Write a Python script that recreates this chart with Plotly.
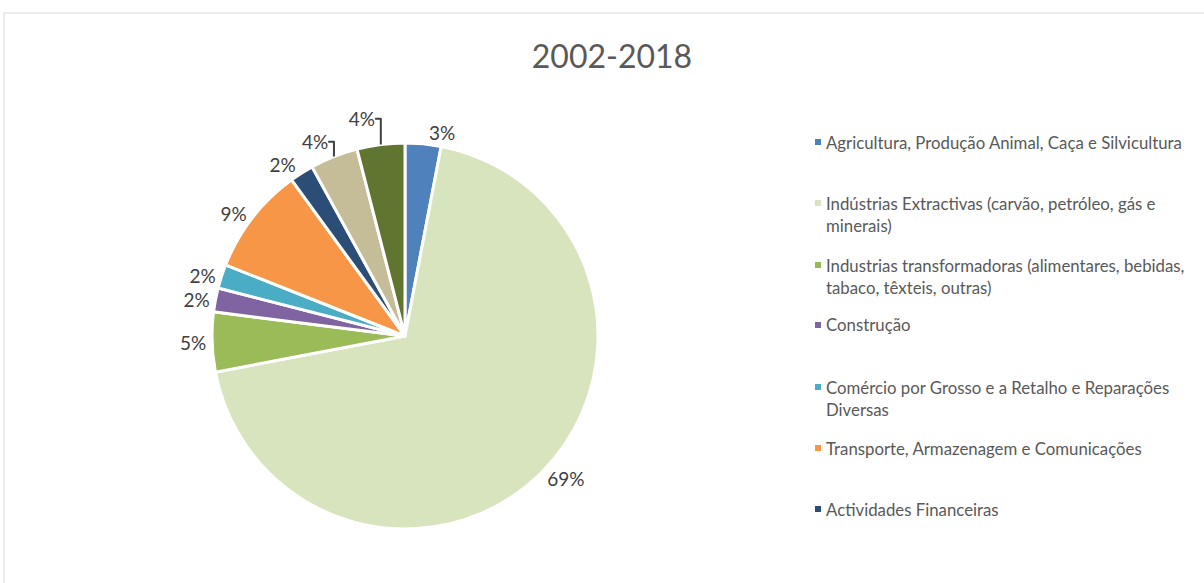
import plotly.graph_objects as go

categories = [
    "Agricultura, Produção Animal, Caça e Silvicultura",
    "Indústrias Extractivas (carvão, petróleo, gás e minerais)",
    "Industrias transformadoras (alimentares, bebidas, tabaco, têxteis, outras)",
    "Construção",
    "Comércio por Grosso e a Retalho e Reparações Diversas",
    "Transporte, Armazenagem e Comunicações",
    "Actividades Financeiras",
    "Outros Serviços",
    "Administração Pública",
]
legend_labels = [
    "Agricultura, Produção Animal, Caça e Silvicultura",
    "Indústrias Extractivas (carvão, petróleo, gás e<br>minerais)",
    "Industrias transformadoras (alimentares, bebidas,<br>tabaco, têxteis, outras)",
    "Construção",
    "Comércio por Grosso e a Retalho e Reparações<br>Diversas",
    "Transporte, Armazenagem e Comunicações",
    "Actividades Financeiras",
]
values = [3, 69, 5, 2, 2, 9, 2, 4, 4]
colors = ["#4F81BD", "#D7E4BD", "#9BBB59", "#8064A2", "#4BACC6",
          "#F79646", "#2C4D75", "#C4BD97", "#5F7530"]

W, H = 1204, 583
FONT = "Lato"
R = 193

fig = go.Figure()
fig.add_trace(go.Pie(
    labels=categories, values=values, sort=False, direction="clockwise",
    rotation=0,
    marker=dict(colors=colors, line=dict(color="white", width=3)),
    textposition="outside", texttemplate="%{percent:.0%}",
    textfont=dict(family=FONT, size=19, color="#404040"),
    showlegend=False,
    domain=dict(x=[(405 - R) / W, (405 + R) / W],
                y=[1 - (336 + R) / H, 1 - (336 - R) / H]),
))

# custom legend (the original legend is clipped after 7 entries)
marker_y = [142, 203, 265, 325, 387, 448, 509]
block_y = [142, 214.5, 276.5, 325, 398, 448, 509]
shapes = [dict(type="line", xref="paper", yref="paper",
               x0=4 / W, x1=1.0, y0=1 - 13 / H, y1=1 - 13 / H,
               line=dict(color="#D9D9D9", width=1)),
          dict(type="line", xref="paper", yref="paper",
               x0=4 / W, x1=4 / W, y0=0, y1=1 - 13 / H,
               line=dict(color="#D9D9D9", width=1))]
annotations = []
for i, lab in enumerate(legend_labels):
    my = marker_y[i]
    shapes.append(dict(type="rect", xref="paper", yref="paper",
                       x0=815 / W, x1=821 / W, y0=1 - (my + 3) / H, y1=1 - (my - 3) / H,
                       fillcolor=colors[i], line=dict(width=0)))
    annotations.append(dict(text=lab, xref="paper", yref="paper",
                            x=824 / W, y=1 - block_y[i] / H, xanchor="left", yanchor="middle",
                            align="left", showarrow=False,
                            font=dict(family=FONT, size=16.8, color="#595959")))

fig.update_layout(
    width=W, height=H,
    margin=dict(l=0, r=0, t=0, b=0),
    paper_bgcolor="white", plot_bgcolor="white",
    title=dict(text="2002-2018", x=612 / W, xanchor="center", y=1 - 57 / H, yanchor="middle",
               font=dict(family=FONT, size=32, color="#595959")),
    shapes=shapes, annotations=annotations,
)
fig.write_html("out.html", config={"displayModeBar": False},
               post_script="document.body.style.margin='0';")
